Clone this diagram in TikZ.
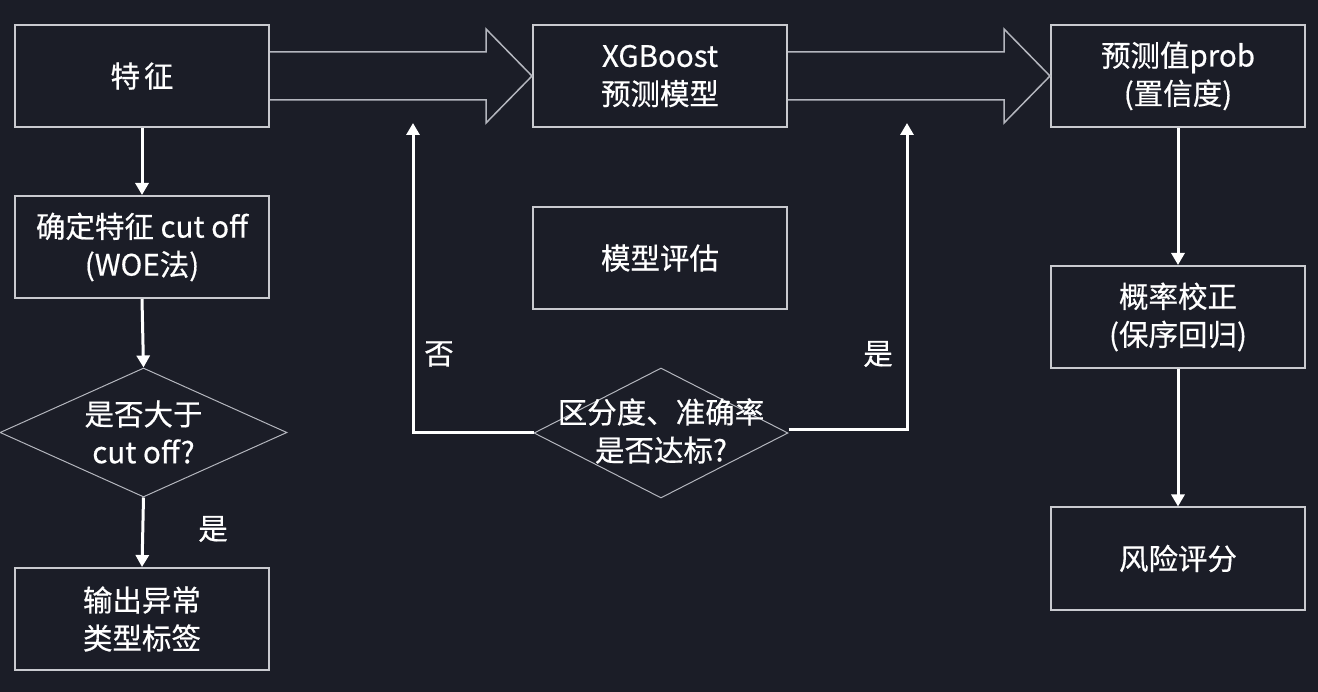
\documentclass[tikz,border=0pt]{standalone}
\usepackage{fontspec}
\setmainfont{Noto Sans CJK SC}[FakeBold=0.5]
\usetikzlibrary{shapes.geometric,arrows.meta,calc}
\definecolor{bg}{HTML}{1B1D27}
\definecolor{edge}{HTML}{C9CACF}
\definecolor{dline}{HTML}{B4B6BE}
\begin{document}
\begin{tikzpicture}[x=1pt,y=-1pt,
  box/.style={draw=edge,line width=2pt,minimum width=254pt,minimum height=102pt,inner sep=0pt,
    text=white,font=\fontsize{29.5}{38}\selectfont,align=center},
  dia/.style={draw=dline,line width=1pt,diamond,inner sep=0pt},
  txt/.style={text=white,font=\fontsize{29.5}{38}\selectfont,align=center,inner sep=0pt},
  conn/.style={draw=white,line width=3pt,-{Triangle[width=13pt,length=12pt]}},
  hollow/.style={draw=dline,line width=1.5pt,line join=miter}]
\fill[bg] (0,0) rectangle (1318,692);
\useasboundingbox (0,0) rectangle (1318,692);
% left column
\node[box] (f) at (142,76) {特\hspace{4pt}征};
\node[box] (c) at (142,247) {确定特征 cut off\\(WOE法)};
\node[dia,minimum width=287pt,minimum height=129pt] (d1) at (143.5,432.5) {};
\node[txt] (d1t) at (143.5,432) {是否大于\\cut off?};
\node[box] (o) at (142,619) {输出异常\\类型标签};
% middle column
\node[box] (x) at (660,76) {XGBoost\\预测模型};
\node[box] (e) at (660,258) {模型评估};
\node[dia,minimum width=254pt,minimum height=130pt] (d2) at (661,433) {};
\node[txt] (d2t) at (661,431) {区分度、准确率\\是否达标?};
% right column
\node[box] (p) at (1178,76) {预测值prob\\(置信度)};
\node[box] (k) at (1178,317) {概率校正\\(保序回归)};
\node[box] (r) at (1178,558.5) {风险评分};
% vertical arrows
\draw[conn] (f.south) -- (c.north);
\draw[conn] (c.south) -- (d1.north);
\draw[conn] (d1.south) -- (o.north);
\draw[conn] (p.south) -- (k.north);
\draw[conn] (k.south) -- (r.north);
% feedback arrows
\coordinate (nt) at (413,123);
\coordinate (yt) at (907,123);
\draw[conn,line join=miter] (d2.west) -- (nt |- d2.west) -- (nt);
\draw[conn,line join=miter] ($(d2.east)+(0,-3)$) -- ($(yt |- d2.east)+(0,-3)$) -- (yt);
\node[txt] (no) at (439,354) {否};
\node[txt] (yes) at (878,354) {是};
\node[txt] (yes1) at (213,529) {是};
% hollow arrows
\draw[hollow] ($(f.east)+(0,-24)$) -- ($(x.west)+(-46,-24)$) -- ($(x.west)+(-46,-47)$) -- (x.west)
  -- ($(x.west)+(-46,47)$) -- ($(x.west)+(-46,24)$) -- ($(f.east)+(0,24)$);
\draw[hollow] ($(x.east)+(0,-24)$) -- ($(p.west)+(-46,-24)$) -- ($(p.west)+(-46,-47)$) -- (p.west)
  -- ($(p.west)+(-46,47)$) -- ($(p.west)+(-46,24)$) -- ($(x.east)+(0,24)$);
\end{tikzpicture}
\end{document}
